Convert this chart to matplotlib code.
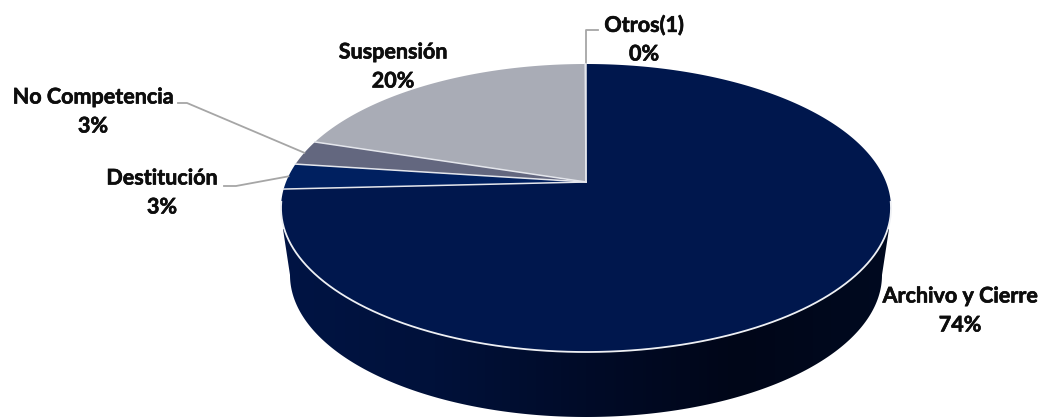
import numpy as np
from matplotlib import pyplot as plt
from matplotlib.colors import LinearSegmentedColormap
from matplotlib.patches import Polygon
import matplotlib.patheffects as pe

# values run clockwise from 12 o'clock
labels = ['Archivo y Cierre', 'Destitución', 'No Competencia', 'Suspensión', 'Otros(1)']
values = [74.2, 2.9, 2.8, 20.05, 0.05]
pct_labels = ['74%', '3%', '3%', '20%', '0%']
colors = ['#00174D', '#002060', '#63677F', '#A9ACB6', '#C9CAD2']

label_x = [960, 162, 93, 393, 644]
label_y = [296, 178, 97, 52, 25]

# top ellipse in pixels, the apex sits above its middle because of the perspective
cx, cy, rx, ry = 586, 208, 305, 144
apex_y = 182
k = (cy - apex_y) / ry


def project(theta):
    u, v = np.cos(theta), np.sin(theta)
    w = 1 + k * v
    x = cx + rx * np.sqrt(1 - k ** 2) * u / w
    y = cy - (ry * v + (cy - apex_y)) / w
    return x, y


fig = plt.figure(figsize=(10.39, 4.18), dpi=100)
ax = fig.add_axes([0, 0, 1, 1])

# side wall
wall_cmap = LinearSegmentedColormap.from_list('wall', ['#001444', '#00113A', '#000B28', '#000618', '#000A20'])
t = np.linspace(np.pi, 2 * np.pi, 300)
low_x = 586 + 296 * np.cos(t)
low_y = 275 - 142 * np.sin(t)
wall_pts = np.column_stack([np.r_[283, low_x, 889], np.r_[229, low_y, 229]])
wall = Polygon(wall_pts, closed=True, transform=ax.transData, fc='none', ec='none')
ax.add_patch(wall)
grad = np.linspace(0, 1, 256).reshape(1, -1)
im = ax.imshow(grad, cmap=wall_cmap, extent=[283, 889, 420, 229], aspect='auto', zorder=1)
im.set_clip_path(wall)

# top slices
edge_col = '#E4E6EC'
cum = np.cumsum([0] + values)
mids = []
for i, val in enumerate(values):
    a0 = np.pi / 2 - 2 * np.pi * cum[i] / 100
    a1 = np.pi / 2 - 2 * np.pi * cum[i + 1] / 100
    th = np.linspace(a0, a1, max(int(val * 12), 4))
    x, y = project(th)
    mids.append(project((a0 + a1) / 2))
    ax.fill(np.r_[cx, x], np.r_[apex_y, y], fc=colors[i], ec='none', zorder=2)
    ax.plot([cx, x[0]], [apex_y, y[0]], color=edge_col, lw=1.1, zorder=2.5)

# white rim along the front of the top face
rim = np.linspace(np.radians(188), np.radians(352), 200)
ax.plot(*project(rim), color='#EEF0F4', lw=1.3, zorder=2.5)

# leader lines
line_col = '#A6A6A6'
ax.plot([mids[1][0], 236, 224], [mids[1][1], 186, 186], color=line_col, lw=1.3, zorder=3)
ax.plot([mids[2][0], 187, 178], [mids[2][1], 103, 103], color=line_col, lw=1.3, zorder=3)
ax.plot([cx, cx, 598], [project(np.pi / 2)[1], 30, 30], color=line_col, lw=1.3, zorder=1.5)

stroke = [pe.withStroke(linewidth=0.45, foreground='#0D0D0D')]
for name, pct, x, y in zip(labels, pct_labels, label_x, label_y):
    ax.text(x, y, name, ha='center', va='center', fontsize=15.5, fontweight='bold', family='Lato',
            color='#0D0D0D', path_effects=stroke)
    ax.text(x, y + 29, pct, ha='center', va='center', fontsize=15.5, fontweight='bold', family='Lato',
            color='#0D0D0D', path_effects=stroke)

ax.set_xlim(0, 1039)
ax.set_ylim(418, 0)
ax.axis('off')
fig.savefig('out.png', dpi=100)
